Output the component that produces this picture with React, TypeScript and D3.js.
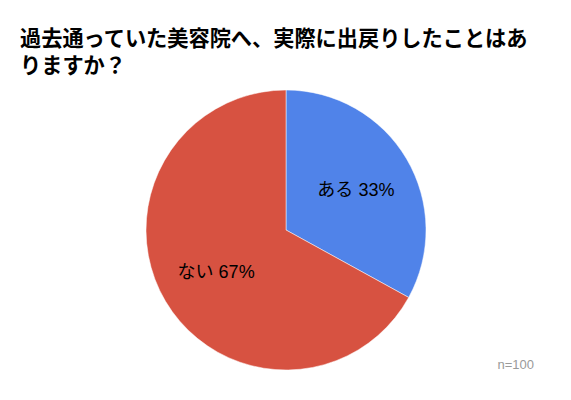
import React from "react";
import * as d3 from "d3";

const categories = ["ある", "ない"];
const values = [33, 67];
const colors = ["#5083E9", "#D75241"];
const titleLines = ["過去通っていた美容院へ、実際に出戻りしたことはあ", "りますか？"];
const note = "n=100";

export default function App() {
  const W = 571, H = 400;
  const cx = 286, cy = 230, r = 140;
  const pie = d3.pie<number>().sort(null).value((d) => d)(values);
  const arc = d3.arc<d3.PieArcDatum<number>>().innerRadius(0).outerRadius(r);
  const labelArc = d3.arc<d3.PieArcDatum<number>>().innerRadius(r * 0.58).outerRadius(r * 0.58);
  const font = "'Liberation Sans', 'Noto Sans CJK JP', sans-serif";
  return (
    <svg width={W} height={H} style={{ position: "absolute", left: 0, top: 0, background: "#fff" }}>
      {titleLines.map((t, i) => (
        <text key={i} x={20} y={46 + i * 27} fontSize={21.2} fontWeight="bold" fontFamily={font} fill="#000">
          {t}
        </text>
      ))}
      <g transform={`translate(${cx},${cy})`}>
        {pie.map((p, i) => (
          <path key={i} d={arc(p) || ""} fill={colors[i]} stroke="#fff" strokeWidth={0.5} />
        ))}
        {pie.map((p, i) => {
          const [x, y] = labelArc.centroid(p);
          return (
            <text key={"l" + i} x={x} y={y + 1} textAnchor="middle" dominantBaseline="central" fontSize={18} fontFamily={font} fill="#000">
              {categories[i]} {values[i]}%
            </text>
          );
        })}
      </g>
      <text x={534} y={369} textAnchor="end" fontSize={13} fontFamily={font} fill="#9a9a9a">
        {note}
      </text>
    </svg>
  );
}
